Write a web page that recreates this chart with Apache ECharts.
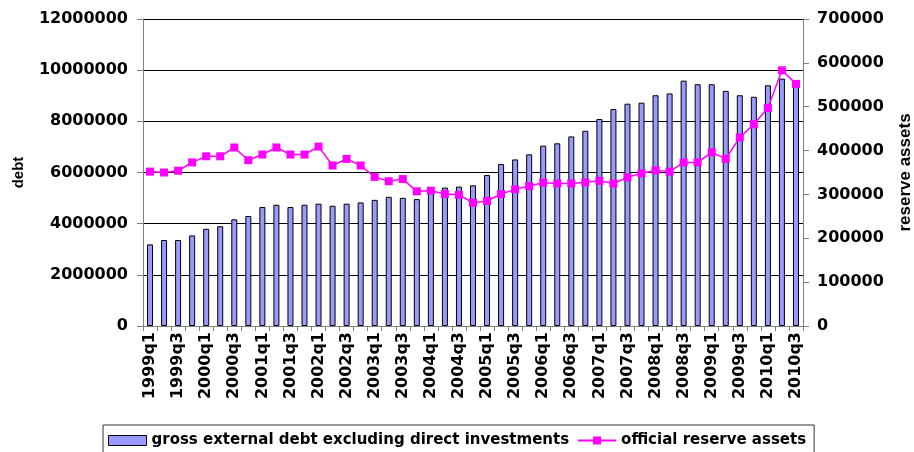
<!DOCTYPE html>
<html>
<head>
<meta charset="utf-8">
<script src="https://cdn.jsdelivr.net/npm/echarts@6/dist/echarts.min.js"></script>
<style>
html,body{margin:0;padding:0;background:#fff;}
#chart{width:914px;height:452px;}
</style>
</head>
<body>
<div id="chart"></div>
<script>
var categories = [];
var years = [1999,2000,2001,2002,2003,2004,2005,2006,2007,2008,2009,2010];
years.forEach(function(y){ for (var q=1;q<=4;q++){ if (y===2010 && q>3) break; categories.push(y+'q'+q); } });

var debt = [3190000,3360000,3360000,3540000,3800000,3900000,4170000,4300000,4650000,4740000,
            4650000,4740000,4780000,4700000,4780000,4830000,4930000,5050000,5010000,4960000,
            5300000,5410000,5450000,5500000,5900000,6330000,6510000,6710000,7050000,7140000,
            7410000,7630000,8090000,8480000,8690000,8730000,9020000,9090000,9590000,9450000,
            9450000,9190000,9020000,8960000,9410000,9670000,9490000];

var reserves = [352000,350000,354000,373000,387000,387000,407000,378000,391000,407000,
                391000,391000,409000,366000,381000,366000,340000,330000,335000,307000,
                308500,301000,299000,281000,285000,301000,311600,319000,326800,325000,
                325000,327600,331000,325000,339000,348000,355000,352000,373000,373000,
                396000,381000,430000,460000,497000,583000,552000];

var seriesNames = ['gross external debt excluding direct investments','official reserve assets'];
var axisNames = ['debt','reserve assets'];

var chart = echarts.init(document.getElementById('chart'));
var lblFont = {color:'#000', fontFamily:'DejaVu Sans', fontWeight:'bold', fontSize:16};
function plain(v){ return String(v); }
chart.setOption({
  animation:false,
  backgroundColor:'#fff',
  grid:{left:143,right:111,top:19,bottom:126,containLabel:false,outerBoundsMode:'none'},
  legend:{
    left:103, top:425,
    padding:[8,8,20,5],
    borderColor:'#333', borderWidth:1,
    itemGap:8,
    textStyle:{color:'#000', fontFamily:'DejaVu Sans', fontWeight:'bold', fontSize:15},
    data:[
      {name:seriesNames[0], icon:'rect', itemStyle:{color:'#9999ff', borderColor:'#000', borderWidth:1}},
      {name:seriesNames[1]}
    ],
    itemWidth:38, itemHeight:10
  },
  xAxis:{
    type:'category', data:categories, boundaryGap:true,
    axisLine:{lineStyle:{color:'#808080', width:1}},
    axisTick:{show:true, interval:0, length:5, lineStyle:{color:'#808080'}},
    axisLabel:Object.assign({interval:1, rotate:90, margin:6}, lblFont)
  },
  yAxis:[
    {type:'value', min:0, max:12000000, interval:2000000, position:'left',
     name:axisNames[0], nameLocation:'middle', nameGap:117, nameRotate:90,
     nameTextStyle:{color:'#000', fontFamily:'Liberation Sans', fontWeight:'bold', fontSize:15},
     axisLine:{show:true, lineStyle:{color:'#808080'}},
     axisTick:{show:true, length:6, lineStyle:{color:'#808080'}},
     splitLine:{show:true, lineStyle:{color:'#000', width:1}},
     axisLabel:Object.assign({margin:15, formatter:plain}, lblFont)},
    {type:'value', min:0, max:700000, interval:100000, position:'right',
     name:axisNames[1], nameLocation:'middle', nameGap:94, nameRotate:90,
     nameTextStyle:{color:'#000', fontFamily:'Liberation Sans', fontWeight:'bold', fontSize:17},
     axisLine:{show:true, lineStyle:{color:'#808080'}},
     axisTick:{show:true, length:6, lineStyle:{color:'#808080'}},
     splitLine:{show:false},
     axisLabel:Object.assign({margin:14, formatter:plain}, lblFont)}
  ],
  series:[
    {name:seriesNames[0], type:'bar', data:debt, yAxisIndex:0, barWidth:6,
     itemStyle:{color:'#9999ff', borderColor:'#000', borderWidth:1}},
    {name:seriesNames[1], type:'line', data:reserves, yAxisIndex:1,
     symbol:'rect', symbolSize:8, showSymbol:true,
     lineStyle:{color:'#ff00ff', width:1.5},
     itemStyle:{color:'#ff00ff'}}
  ]
});
</script>
</body>
</html>
